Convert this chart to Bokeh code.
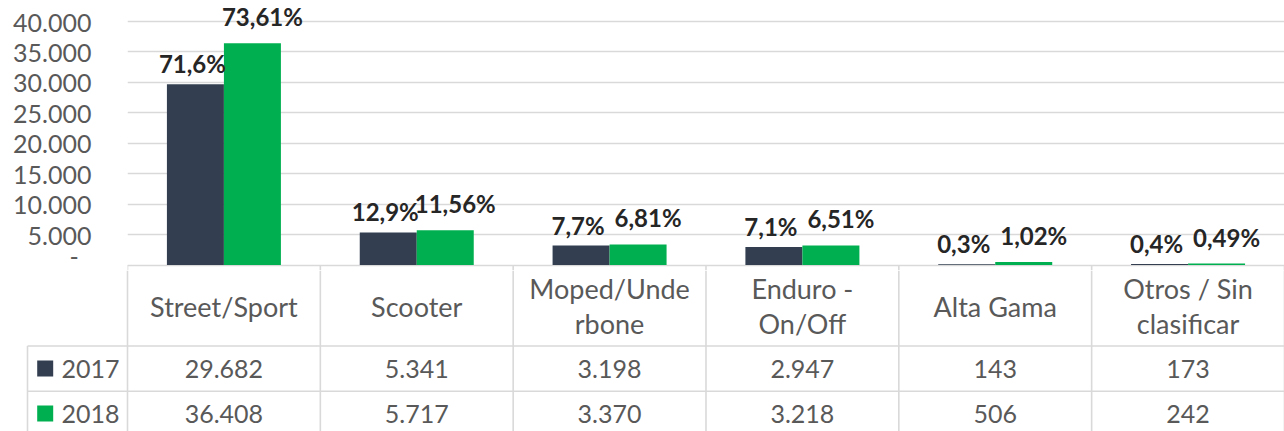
import numpy as np
from bokeh.plotting import figure
from bokeh.models import Range1d, FixedTicker, ColumnDataSource
from bokeh.core.properties import value
from bokeh.embed import file_html
from bokeh.resources import INLINE

# ---------------- data ----------------
categories = ["Street/Sport", "Scooter", "Moped/Unde\nrbone", "Enduro -\nOn/Off",
              "Alta Gama", "Otros / Sin\nclasificar"]
series_names = ["2017", "2018"]
values_2017 = [29682, 5341, 3198, 2947, 143, 173]
values_2018 = [36408, 5717, 3370, 3218, 506, 242]
pct_2017 = ["71,6%", "12,9%", "7,7%", "7,1%", "0,3%", "0,4%"]
pct_2018 = ["73,61%", "11,56%", "6,81%", "6,51%", "1,02%", "0,49%"]
yticks = [0, 5000, 10000, 15000, 20000, 25000, 30000, 35000, 40000]
ytick_labels = ["-\u00a0\u00a0", "5.000", "10.000", "15.000", "20.000",
                "25.000", "30.000", "35.000", "40.000"]

# ---------------- style ----------------
C2017 = "#333F50"
C2018 = "#00B050"
GRID = "#D9D9D9"
TXT = "#595959"
LBL = "#262626"
FONT = "Lato"

W = 1284
CW = 192.83           # px per category
LEFT = 127            # px left border of bar plot
H1 = 270
H2 = 161
PX_PER_UNIT = 243.5 / 40000.0
Y_MAX = 40000 + 21 / PX_PER_UNIT
Y_MIN = -(H1 - 264.5) / PX_PER_UNIT
X_END = (W - LEFT) / CW
BW = 0.2956

idx = np.arange(len(categories))

# ---------------- bar chart ----------------
p1 = figure(width=W, height=H1, x_range=Range1d(0, X_END), y_range=Range1d(Y_MIN, Y_MAX),
            output_backend="svg", toolbar_location=None, x_axis_location=None,
            min_border_left=LEFT, min_border_right=0, min_border_top=0, min_border_bottom=0,
            outline_line_color=None, background_fill_color="white", border_fill_color="white")
p1.xgrid.visible = False
p1.ygrid.ticker = FixedTicker(ticks=yticks)
p1.ygrid.grid_line_color = GRID
p1.ygrid.grid_line_width = 1.6
ax = p1.yaxis[0]
ax.ticker = FixedTicker(ticks=yticks)
ax.major_label_overrides = {t: l for t, l in zip(yticks, ytick_labels)}
ax.axis_line_color = None
ax.major_tick_line_color = None
ax.minor_tick_line_color = None
ax.major_tick_out = 0
ax.major_label_standoff = 36
ax.major_label_text_font = FONT
ax.major_label_text_font_size = "25px"
ax.major_label_text_color = TXT

src = ColumnDataSource(dict(
    x1=idx + 0.5 - BW / 2, x2=idx + 0.5 + BW / 2,
    v1=values_2017, v2=values_2018, l1=pct_2017, l2=pct_2018))

p1.vbar(x="x1", top="v1", bottom=0, width=BW, source=src, fill_color=C2017, line_color=None)
p1.vbar(x="x2", top="v2", bottom=0, width=BW, source=src, fill_color=C2018, line_color=None)

# vertical table lines reaching up to the axis line
p1.segment(x0=list(range(7)), x1=list(range(7)), y0=[Y_MIN] * 7, y1=[0] * 7,
           line_color=GRID, line_width=1.6)

p1.text(x="x1", y="v1", text="l1", source=src, text_align="center", text_baseline="bottom",
        x_offset=-3, y_offset=-6, text_font=value(FONT), text_font_style="bold",
        text_font_size="24px", text_color=LBL)
p1.text(x="x2", y="v2", text="l2", source=src, text_align="center", text_baseline="bottom",
        x_offset=10, y_offset=-12, text_font=value(FONT), text_font_style="bold",
        text_font_size="24px", text_color=LBL)

# ---------------- data table ----------------
LEG_X = (27 - LEFT) / CW
p2 = figure(width=W, height=H2, x_range=Range1d(-LEFT / CW, X_END), y_range=Range1d(431, 270),
            output_backend="svg", toolbar_location=None, x_axis_location=None,
            y_axis_location=None, min_border=0, outline_line_color=None,
            background_fill_color="white", border_fill_color="white")
p2.grid.visible = False

ROW_HDR = 305.5
ROW_A = 368
ROW_B = 413
LINE_A = 345.5
LINE_B = 390.7

p2.segment(x0=list(range(7)), x1=list(range(7)), y0=[270] * 7, y1=[431] * 7,
           line_color=GRID, line_width=1.6)
p2.segment(x0=[LEG_X], x1=[LEG_X], y0=[LINE_A], y1=[431], line_color=GRID, line_width=1.6)
p2.segment(x0=[LEG_X, LEG_X], x1=[6, 6], y0=[LINE_A, LINE_B], y1=[LINE_A, LINE_B],
           line_color=GRID, line_width=1.6)

p2.text(x=idx + 0.5, y=[ROW_HDR] * len(categories), text=categories, text_align="center",
        text_baseline="middle", text_font=value(FONT), text_font_size="27px",
        text_color=TXT, text_line_height=1.08)

fmt = lambda v: f"{v:,}".replace(",", ".")
p2.text(x=idx + 0.5, y=[ROW_A] * len(categories), text=[fmt(v) for v in values_2017],
        text_align="center", text_baseline="middle", text_font=value(FONT),
        text_font_size="25px", text_color=TXT)
p2.text(x=idx + 0.5, y=[ROW_B] * len(categories), text=[fmt(v) for v in values_2018],
        text_align="center", text_baseline="middle", text_font=value(FONT),
        text_font_size="25px", text_color=TXT)

# legend keys
SQ_X = (44.7 - LEFT) / CW
TX_X = (61 - LEFT) / CW
p2.scatter(x=[SQ_X, SQ_X], y=[ROW_A, ROW_B], marker="square", size=16,
           fill_color=[C2017, C2018], line_color=None)
p2.text(x=[TX_X, TX_X], y=[ROW_A, ROW_B], text=series_names, text_align="left",
        text_baseline="middle", text_font=value(FONT), text_font_size="25px", text_color=TXT)

open("out.html", "w").write(file_html([p1, p2], INLINE))
